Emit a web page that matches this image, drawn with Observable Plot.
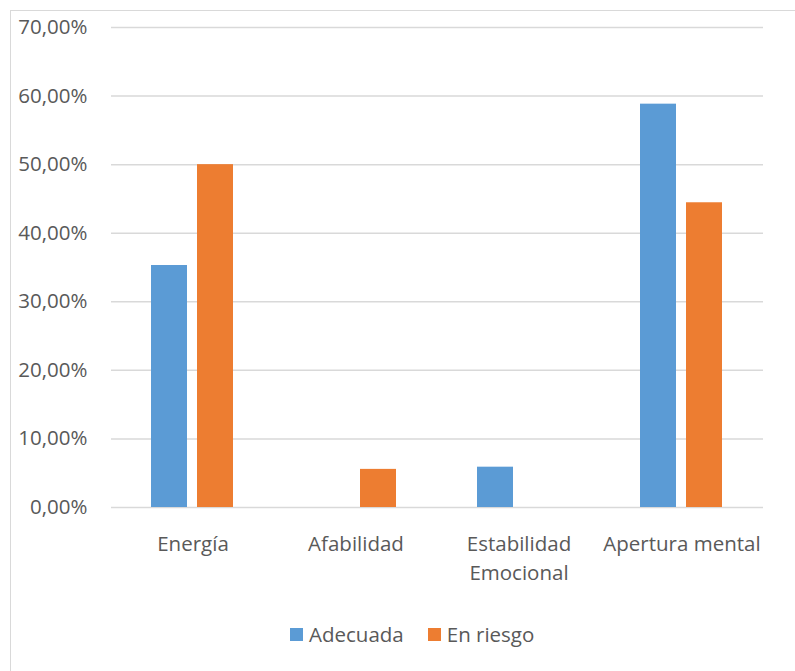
<!DOCTYPE html>
<html>
<head>
<meta charset="utf-8">
<script src="https://cdn.jsdelivr.net/npm/d3@7"></script>
<script src="https://cdn.jsdelivr.net/npm/@observablehq/plot@0.6"></script>
<style>
  html, body { margin: 0; padding: 0; background: #fff; overflow: hidden; }
  body { width: 795px; height: 671px; position: relative; font-family: "Open Sans", sans-serif; }
  #frame { position: absolute; left: 10px; top: 10px; width: 900px; height: 800px; border: 1.5px solid #d9d9d9; box-sizing: border-box; }
  #chart { position: absolute; left: 0; top: 0; }
  #legend { position: absolute; left: 290px; top: 620px; display: flex; align-items: center; font-size: 20.5px; color: #595959; }
  #legend .item { display: flex; align-items: center; margin-right: 24px; }
  #legend .sw { width: 13px; height: 13px; margin-right: 6px; }
</style>
</head>
<body>
<div id="frame"></div>
<div id="chart"></div>
<div id="legend"></div>
<script>
// Share of each personality dimension by result group
const categories = ["Energía", "Afabilidad", "Estabilidad Emocional", "Apertura mental"];
const series = ["Adecuada", "En riesgo"];
const adecuada = [0.3529, 0, 0.0588, 0.5882];
const enRiesgo = [0.5000, 0.0556, 0, 0.4444];
const yTicks = [0, 0.1, 0.2, 0.3, 0.4, 0.5, 0.6, 0.7];
const colors = ["#5b9bd5", "#ed7d31"];

const rows = [];
categories.forEach((c, i) => {
  rows.push({category: c, series: series[0], value: adecuada[i]});
  rows.push({category: c, series: series[1], value: enRiesgo[i]});
});

const pct = d3.format(".2%");

const chart = Plot.plot({
  width: 795,
  height: 600,
  marginLeft: 109,
  marginRight: 31,
  marginTop: 27,
  marginBottom: 93,
  style: {fontFamily: "'Open Sans', sans-serif", fontSize: "20.5px", color: "#595959", background: "transparent", overflow: "visible"},
  fx: {domain: categories, padding: 0, label: null},
  x: {domain: series, paddingInner: 0.213, paddingOuter: 0.848, axis: null},
  y: {domain: [0, 0.7], label: null},
  color: {domain: series, range: colors},
  marks: [
    Plot.gridY(yTicks, {stroke: "#d9d9d9", strokeOpacity: 1, strokeWidth: 1.5}),
    Plot.barY(rows.filter(d => d.value > 0), {fx: "category", x: "series", y: "value", fill: "series"}),
    Plot.axisY(yTicks, {
      tickSize: 0, tickPadding: 24, label: null,
      tickFormat: d => pct(d).replace(".", ","),
      fill: "#595959"
    }),
    Plot.axisFx({
      anchor: "bottom", tickSize: 0, tickPadding: 23, label: null,
      tickFormat: d => d.replace(" Emocional", "\nEmocional"),
      lineHeight: 1.41, fill: "#595959"
    })
  ]
});
document.getElementById("chart").appendChild(chart);

const legend = document.getElementById("legend");
series.forEach((s, i) => {
  const item = document.createElement("div");
  item.className = "item";
  const sw = document.createElement("div");
  sw.className = "sw";
  sw.style.background = colors[i];
  const label = document.createElement("span");
  label.textContent = s;
  item.appendChild(sw);
  item.appendChild(label);
  legend.appendChild(item);
});
</script>
</body>
</html>
